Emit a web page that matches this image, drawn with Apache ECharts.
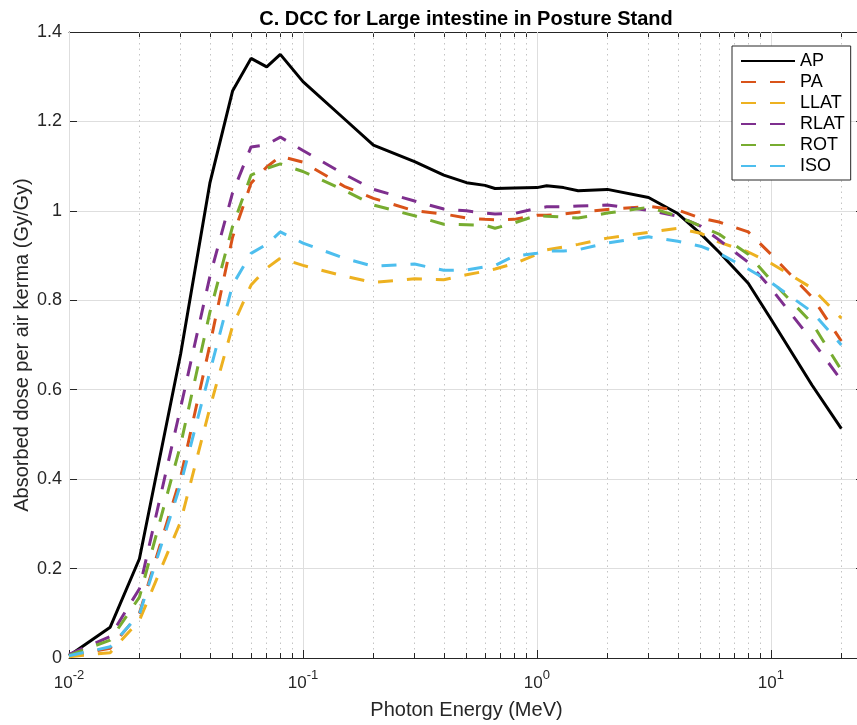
<!DOCTYPE html>
<html>
<head>
<meta charset="utf-8">
<script src="https://cdn.jsdelivr.net/npm/echarts@6/dist/echarts.min.js"></script>
<style>
  html, body { margin: 0; padding: 0; background: #fff; }
  #chart { width: 857px; height: 725px; }
</style>
</head>
<body>
<div id="chart"></div>
<script>
// photon energies (MeV)
var energies = [0.01, 0.015, 0.02, 0.03, 0.04, 0.05, 0.06, 0.07, 0.08, 0.1, 0.15, 0.2, 0.3, 0.4, 0.5, 0.6, 0.662, 0.8,
    1, 1.1, 1.3, 1.5, 2, 3, 4, 5, 6, 8, 10, 15, 20];
// absorbed dose per air kerma (Gy/Gy) for each irradiation geometry
var AP = [0.005, 0.069, 0.222, 0.68, 1.062, 1.268, 1.341, 1.322, 1.350, 1.289, 1.206, 1.147, 1.110, 1.080, 1.063, 1.057, 1.050, 1.051,
    1.052, 1.056, 1.052, 1.045, 1.048, 1.030, 0.994, 0.949, 0.908, 0.838, 0.758, 0.61, 0.513];
var PA = [0.004, 0.022, 0.10, 0.404, 0.70, 0.941, 1.062, 1.098, 1.122, 1.109, 1.055, 1.028, 1.000, 0.993, 0.984, 0.981, 0.980, 0.981,
    0.990, 0.990, 0.993, 0.997, 1.003, 1.010, 1.002, 0.984, 0.975, 0.953, 0.903, 0.807, 0.709];
var LLAT = [0.003, 0.012, 0.084, 0.305, 0.559, 0.742, 0.834, 0.872, 0.894, 0.878, 0.854, 0.840, 0.848, 0.846, 0.857, 0.865, 0.870, 0.882,
    0.903, 0.913, 0.919, 0.925, 0.939, 0.952, 0.961, 0.950, 0.930, 0.908, 0.883, 0.827, 0.76];
var RLAT = [0.008, 0.048, 0.155, 0.56, 0.853, 1.04, 1.143, 1.148, 1.165, 1.135, 1.082, 1.048, 1.022, 1.004, 1.000, 0.995, 0.993, 0.994,
    1.006, 1.009, 1.009, 1.011, 1.013, 1.001, 0.988, 0.966, 0.935, 0.885, 0.827, 0.71, 0.621];
var ROT = [0.006, 0.04, 0.136, 0.477, 0.773, 0.965, 1.08, 1.095, 1.105, 1.088, 1.046, 1.013, 0.989, 0.970, 0.969, 0.968, 0.961, 0.973,
    0.990, 0.988, 0.986, 0.984, 0.995, 1.008, 0.988, 0.966, 0.948, 0.903, 0.845, 0.749, 0.644];
var ISO = [0.005, 0.025, 0.098, 0.389, 0.64, 0.834, 0.905, 0.925, 0.953, 0.928, 0.894, 0.876, 0.881, 0.867, 0.868, 0.875, 0.878, 0.899,
    0.905, 0.910, 0.910, 0.913, 0.928, 0.942, 0.932, 0.921, 0.905, 0.870, 0.840, 0.774, 0.70];

var seriesNames = ['AP', 'PA', 'LLAT', 'RLAT', 'ROT', 'ISO'];
var seriesValues = [AP, PA, LLAT, RLAT, ROT, ISO];
var seriesColors = ['#000000', '#D95319', '#EDB120', '#7E2F8E', '#77AC30', '#4DBEEE'];

// axis ticks
var xMinorTicks = [0.02, 0.03, 0.04, 0.05, 0.06, 0.07, 0.08, 0.09, 0.2, 0.3, 0.4, 0.5, 0.6, 0.7, 0.8, 0.9,
    2, 3, 4, 5, 6, 7, 8, 9, 20];
var yTicks = [0, 0.2, 0.4, 0.6, 0.8, 1, 1.2, 1.4];

var FONT = 'Liberation Sans';
var AXIS_COLOR = '#262626';

function decadeLabel(v) {
    var e = Math.log(v) / Math.LN10;
    if (Math.abs(e - Math.round(e)) > 1e-6) return '';
    return '{b|10}{s|' + Math.round(e) + '}';
}

var myChart = echarts.init(document.getElementById('chart'), null, {renderer: 'canvas'});

var series = [];
for (var k = 0; k < seriesNames.length; k++) {
    var pts = [];
    for (var i = 0; i < energies.length; i++) {
        pts.push([energies[i], seriesValues[k][i]]);
    }
    series.push({
        name: seriesNames[k],
        type: 'line',
        xAxisIndex: 0,
        yAxisIndex: 0,
        data: pts,
        showSymbol: false,
        symbol: 'none',
        lineStyle: {
            color: seriesColors[k],
            width: 3,
            type: k === 0 ? 'solid' : [15, 14]
        },
        itemStyle: {color: seriesColors[k]},
        emphasis: {disabled: true}
    });
}

var baseX = {
    type: 'log',
    logBase: 10,
    min: 0.01,
    max: 25,
    gridIndex: 0
};

option = {
    animation: false,
    backgroundColor: '#ffffff',
    title: {
        text: 'C. DCC for Large intestine in Posture Stand',
        left: 461,
        top: 4,
        textAlign: 'center',
        textStyle: {fontFamily: FONT, fontSize: 20, fontWeight: 'bold', color: '#000000'}
    },
    legend: {
        orient: 'vertical',
        left: 732,
        top: 46,
        padding: [6, 6, 5, 8],
        itemWidth: 54,
        itemHeight: 14,
        itemGap: 3,
        backgroundColor: '#ffffff',
        borderColor: AXIS_COLOR,
        borderWidth: 1,
        borderRadius: 0,
        itemStyle: {opacity: 0, color: 'rgba(0,0,0,0)', borderWidth: 0},
        data: seriesNames,
        textStyle: {fontFamily: FONT, fontSize: 18, color: '#000000'}
    },
    grid: {left: 69, top: 32, width: 795, height: 626, containLabel: false, outerBoundsMode: 'none'},
    xAxis: [
        echarts.util.extend({
            position: 'bottom',
            name: 'Photon Energy (MeV)',
            nameLocation: 'middle',
            nameGap: 42,
            nameTextStyle: {fontFamily: FONT, fontSize: 20, color: AXIS_COLOR},
            axisLine: {show: true, lineStyle: {color: AXIS_COLOR, width: 1}},
            axisTick: {show: true, inside: true, length: 8, lineStyle: {color: AXIS_COLOR}},
            axisLabel: {
                margin: 11,
                formatter: decadeLabel,
                showMaxLabel: false,
                rich: {
                    b: {fontFamily: FONT, fontSize: 17, color: AXIS_COLOR},
                    s: {fontFamily: FONT, fontSize: 13, color: AXIS_COLOR, padding: [0, 0, 15, 0]}
                }
            },
            splitLine: {show: true, lineStyle: {color: '#dedede', width: 1}},
            minorTick: {show: false},
            z: 3
        }, baseX),
        echarts.util.extend({
            position: 'bottom',
            axisLine: {show: false},
            axisTick: {show: true, inside: true, length: 5, customValues: xMinorTicks, lineStyle: {color: AXIS_COLOR}},
            axisLabel: {show: false},
            splitLine: {show: true, lineStyle: {color: '#c4c4c4', width: 1, type: [1.5, 4]}},
            z: 2
        }, baseX),
        echarts.util.extend({
            position: 'top',
            axisLine: {show: true, lineStyle: {color: AXIS_COLOR, width: 1}},
            axisTick: {show: true, inside: true, length: 8, lineStyle: {color: AXIS_COLOR}},
            axisLabel: {show: false},
            splitLine: {show: false}
        }, baseX),
        echarts.util.extend({
            position: 'top',
            axisLine: {show: false},
            axisTick: {show: true, inside: true, length: 5, customValues: xMinorTicks, lineStyle: {color: AXIS_COLOR}},
            axisLabel: {show: false},
            splitLine: {show: false}
        }, baseX)
    ],
    yAxis: [
        {
            type: 'value',
            position: 'left',
            min: 0,
            max: 1.4,
            interval: 0.2,
            name: 'Absorbed dose per air kerma (Gy/Gy)',
            nameLocation: 'middle',
            nameGap: 37,
            nameMoveOverlap: false,
            nameTextStyle: {fontFamily: FONT, fontSize: 20, color: AXIS_COLOR},
            axisLine: {show: true, lineStyle: {color: AXIS_COLOR, width: 1}},
            axisTick: {show: true, inside: true, length: 8, customValues: yTicks, lineStyle: {color: AXIS_COLOR}},
            axisLabel: {margin: 7, customValues: yTicks, fontFamily: FONT, fontSize: 18, color: AXIS_COLOR},
            splitLine: {show: true, lineStyle: {color: '#dedede', width: 1}}
        },
        {
            type: 'value',
            position: 'right',
            min: 0,
            max: 1.4,
            interval: 0.2,
            axisLine: {show: true, lineStyle: {color: AXIS_COLOR, width: 1}},
            axisTick: {show: true, inside: true, length: 8, lineStyle: {color: AXIS_COLOR}},
            axisLabel: {show: false},
            splitLine: {show: false}
        }
    ],
    series: series
};
myChart.setOption(option);
</script>
</body>
</html>
